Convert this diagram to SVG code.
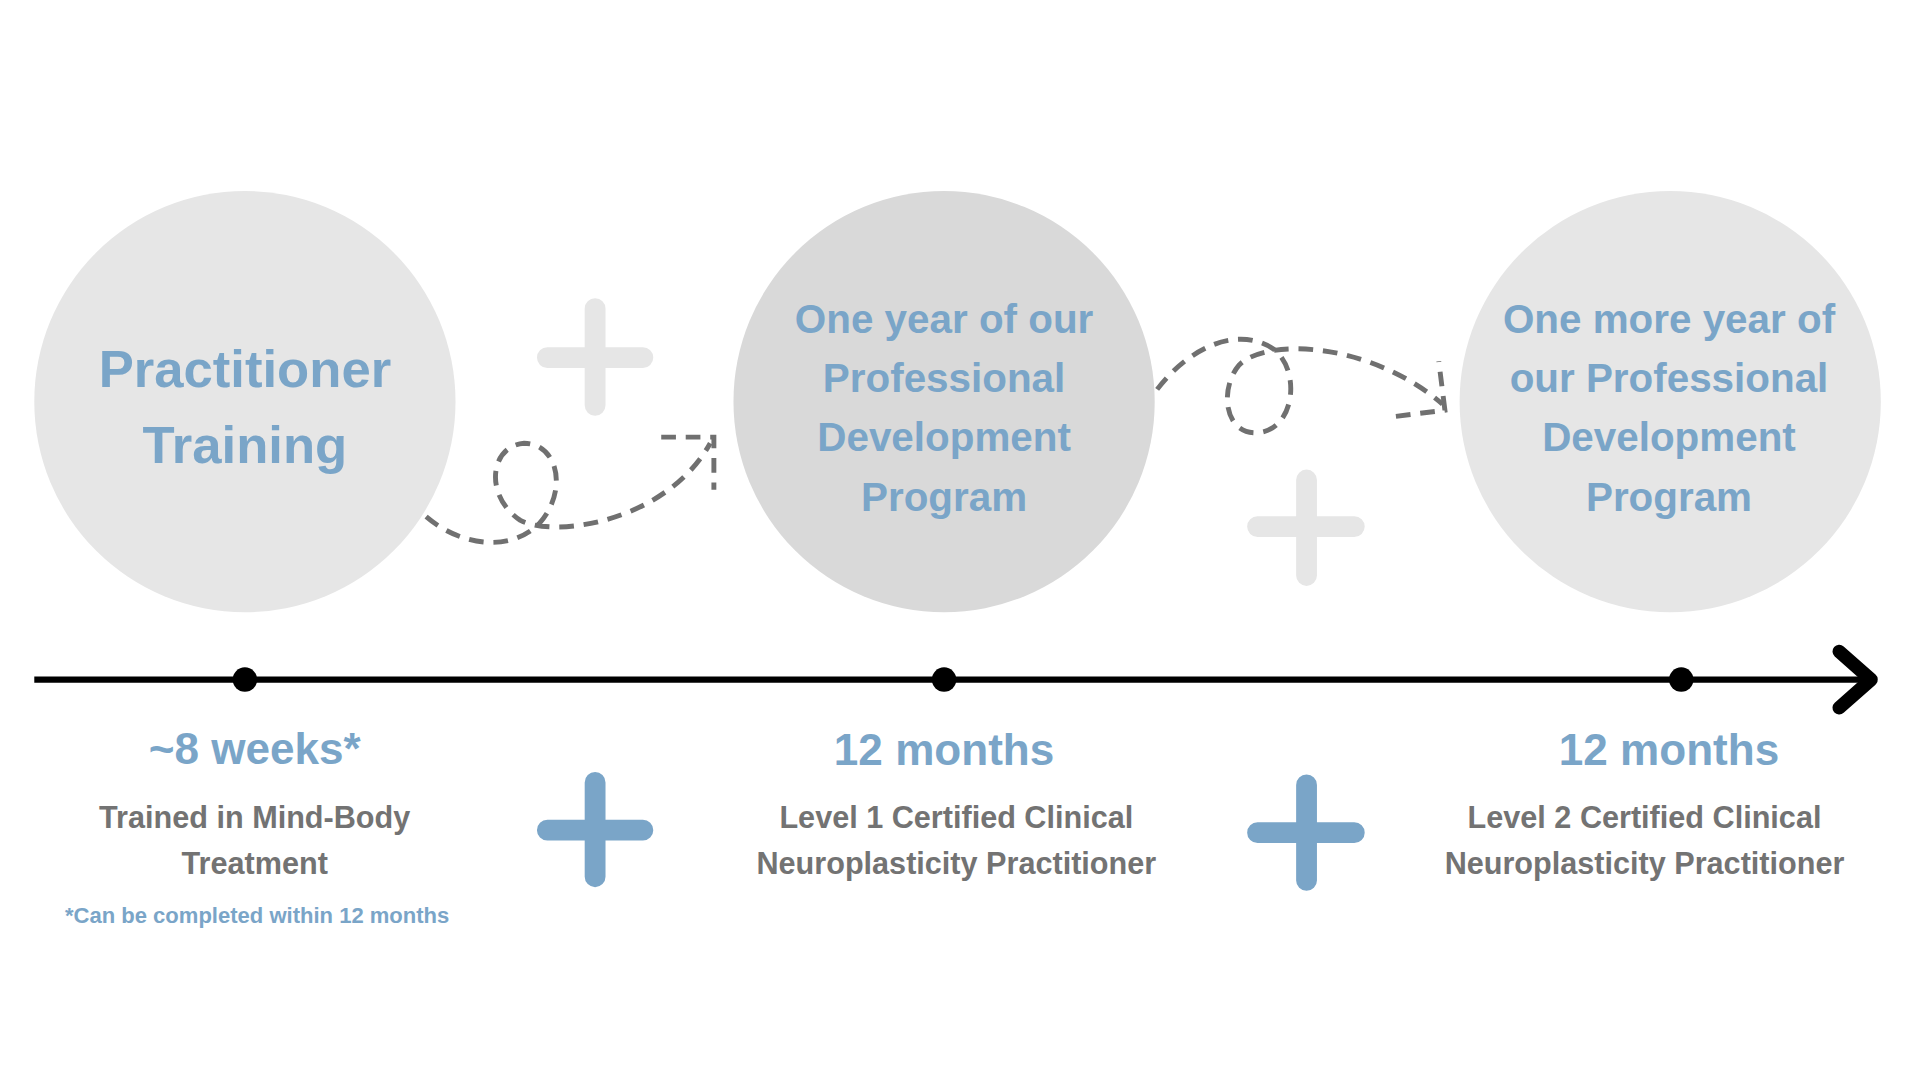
<svg xmlns="http://www.w3.org/2000/svg" width="1920" height="1080" viewBox="0 0 1920 1080">
<style>
.t{font-family:"Liberation Sans",Arial,sans-serif;font-weight:bold;text-anchor:middle}
.b{fill:#7aa5c8}.g{fill:#737373}
.dash{fill:none;stroke:#707070;stroke-width:4;stroke-dasharray:12 8}
.lp{stroke:#e6e6e6;stroke-width:17;stroke-linecap:round}
.bp{stroke:#7aa5c8;stroke-width:17;stroke-linecap:round}
</style>
<rect width="1920" height="1080" fill="#fff"/>
<g transform="scale(1.2245)">
<g id="node1"><circle cx="200" cy="328" r="172" fill="#e6e6e6"/>
<text class="t b" x="200" y="316" font-size="43">Practitioner</text>
<text class="t b" x="200" y="378" font-size="43">Training</text></g>
<g id="node2"><circle cx="771" cy="328" r="172" fill="#d9d9d9"/>
<text class="t b" x="771" y="272" font-size="33">One year of our</text>
<text class="t b" x="771" y="320" font-size="33">Professional</text>
<text class="t b" x="771" y="368" font-size="33">Development</text>
<text class="t b" x="771" y="417" font-size="33">Program</text></g>
<g id="node3"><circle cx="1364" cy="328" r="172" fill="#e6e6e6"/>
<text class="t b" x="1363" y="272" font-size="33">One more year of</text>
<text class="t b" x="1363" y="320" font-size="33">our Professional</text>
<text class="t b" x="1363" y="368" font-size="33">Development</text>
<text class="t b" x="1363" y="417" font-size="33">Program</text></g>
<g id="pluses">
<path class="lp" d="M486,252V331M447,292H525"/>
<path class="lp" d="M1067,392V470M1027,430H1106"/>
<path class="bp" d="M486,639V716M447,678H525"/>
<path class="bp" d="M1067,641V719M1027,680H1106"/>
</g>
<g id="connectors">
<path class="dash" d="M348,422 C375,445 415,452 440,428 C465,400 455,362 428,362 C400,364 395,405 425,425 C455,440 545,425 580,362"/>
<polyline class="dash" points="540,357 583,357 583,400"/>
<path class="dash" d="M945,318 C970,285 1010,265 1040,285 C1062,302 1058,348 1030,353 C1000,358 995,318 1012,298 C1035,275 1120,280 1178,330"/>
<polyline class="dash" points="1140,340 1180,335 1175,295"/>
</g>
<g id="timeline">
<line x1="28" y1="555" x2="1528" y2="555" stroke="#000" stroke-width="5"/>
<polyline points="1502,532 1528,555 1502,578" fill="none" stroke="#000" stroke-width="11" stroke-linecap="round" stroke-linejoin="round"/>
<circle cx="200" cy="555" r="10"/><circle cx="771" cy="555" r="10"/><circle cx="1373" cy="555" r="10"/>
</g>
<g id="labels">
<text class="t b" x="208" y="624" font-size="36">~8 weeks*</text>
<text class="t g" x="208" y="676" font-size="25">Trained in Mind-Body</text>
<text class="t g" x="208" y="714" font-size="25">Treatment</text>
<text class="t b" x="210" y="754" font-size="18">*Can be completed within 12 months</text>
<text class="t b" x="771" y="625" font-size="36">12 months</text>
<text class="t g" x="781" y="676" font-size="25">Level 1 Certified Clinical</text>
<text class="t g" x="781" y="714" font-size="25">Neuroplasticity Practitioner</text>
<text class="t b" x="1363" y="625" font-size="36">12 months</text>
<text class="t g" x="1343" y="676" font-size="25">Level 2 Certified Clinical</text>
<text class="t g" x="1343" y="714" font-size="25">Neuroplasticity Practitioner</text>
</g>
</g>
</svg>
